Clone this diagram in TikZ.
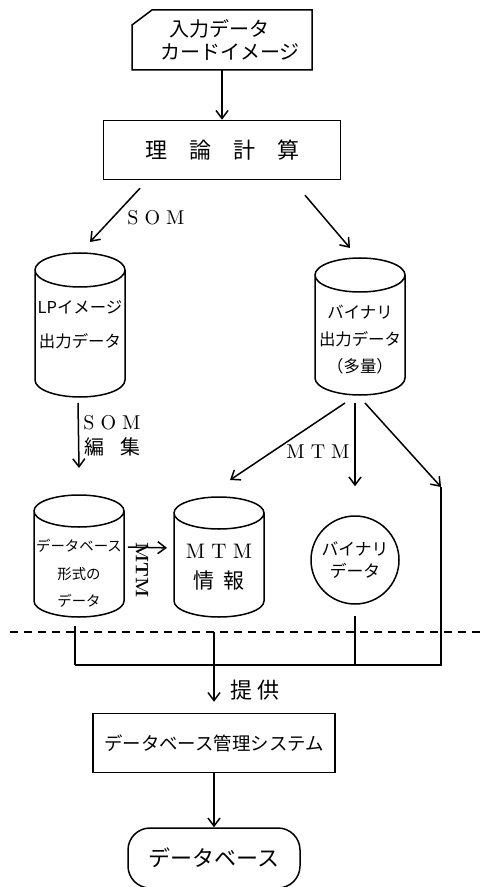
\documentclass[tikz,border=0pt]{standalone}
\usepackage{fontspec}
\newfontfamily\jp{Noto Sans CJK JP}
\usetikzlibrary{arrows.meta}

% outline of a drum (cylinder) around the node #1, ellipse y radius #2
\newcommand\drumline[2]{%
    \draw ([yshift=-#2]#1.north west) -- ([yshift=#2]#1.south west)
        arc[start angle=180, end angle=360, x radius=22.5pt, y radius=#2]
        -- ([yshift=-#2]#1.north east)
        arc[start angle=0, end angle=360, x radius=22.5pt, y radius=#2];
}

\begin{document}
\begin{tikzpicture}[x=0.5pt, y=-0.5pt, >={Straight Barb[length=4pt,width=6pt]}, line width=0.75pt,
    card/.style={rectangle, minimum width=90pt, minimum height=30pt, text width=78pt, align=left,
        outer sep=0pt, font=\jp\fontsize{10}{11.5}\selectfont},
    procbox/.style={rectangle, draw, minimum width=#1, minimum height=29.5pt},
    drum/.style={rectangle, inner sep=0pt, outer sep=0pt, minimum width=45pt, minimum height=#1,
        align=center, font=\jp\fontsize{8.2}{13.5}\selectfont},
    lbl/.style={inner sep=0pt, font=\fontsize{10}{11}\selectfont}]

    \useasboundingbox (0,0) rectangle (485,887);

    \coordinate (bus) at (0,665);
    \coordinate (rtop) at (441,487);
    \coordinate (dl) at (10,632);
    \coordinate (dr) at (485,632);

    \node[card] (card) at (222,40) {\hspace*{12.5pt}入力データ\\\hspace*{8pt}カードイメージ};
    \draw ([yshift=-7.5pt]card.north west) -- ([xshift=10pt]card.north west) -- (card.north east)
        -- (card.south east) -- (card.south west) -- cycle;
    \node[procbox=118.5pt, font=\jp\fontsize{11}{12}\selectfont] (calc) at (222,150) {理\quad 論\quad 計\quad 算};

    \node[drum=72pt, font=\jp\fontsize{8.2}{17}\selectfont] (lp) at (80,325) {LPイメージ\\出力データ};
    \node[drum=68.5pt] (bin) at (360,326.5) {\rule{0pt}{19.7pt}バイナリ\\出力データ\\（多量）};
    \node[drum=61pt, font=\jp\fontsize{7.2}{13.75}\selectfont] (db) at (79,556)
        {\rule{0pt}{23.5pt}データベース\\形式の\\データ};
    \node[drum=60pt, font=\jp\fontsize{10.5}{15}\selectfont] (mtm) at (219,557)
        {\rule{0pt}{17.5pt}{\rmfamily M\hspace{0.3em}T\hspace{0.3em}M}\\情\hspace{0.4em}報};
    \drumline{lp}{8.5pt}
    \drumline{bin}{8.5pt}
    \drumline{db}{8pt}
    \drumline{mtm}{8pt}
    \node[circle, draw, minimum size=44pt, inner sep=0pt, align=center,
        font=\jp\fontsize{8.4}{11}\selectfont] (bindat) at (355,560) {バイナリ\\データ};

    \node[procbox=121pt, font=\jp\fontsize{9.2}{11}\selectfont] (dbms) at (214,743) {データベース管理システム};
    \node[rectangle, rounded corners=11pt, draw, minimum width=86pt, minimum height=30pt,
        font=\jp\fontsize{11}{12}\selectfont] (dbase) at (214,858) {データベース};

    % labels
    \node[lbl] (som1) at (156,218) {S\hspace{0.3em}O\hspace{0.3em}M};
    \node[lbl] (som2) at (112,423) {S\hspace{0.3em}O\hspace{0.3em}M};
    \node[lbl, font=\jp\fontsize{10}{11}\selectfont] (edit) at (112,447) {編\hspace{0.8em}集};
    \node[lbl] (mtm1) at (318,452) {M\hspace{0.3em}T\hspace{0.3em}M};
    \node[lbl, rotate=-90, font=\bfseries\fontsize{9}{10}\selectfont] (mtm2) at (142,570) {MTM};
    \node[lbl, font=\jp\fontsize{11}{12}\selectfont] (offer) at (255,690) {提\hspace{0.25em}供};

    \draw[->] (card.south) -- (calc.north);
    \draw[->] ([xshift=-41pt,yshift=-4pt]calc.south) -- ([xshift=5pt,yshift=5.5pt]lp.north);
    \draw[->] ([xshift=41.5pt,yshift=-7.5pt]calc.south) -- ([xshift=-5pt,yshift=5pt]bin.north);
    \draw[->] ([xshift=-1pt,yshift=-3pt]lp.south) -- ([yshift=13.5pt]db.north);

    \draw[->] ([xshift=-7.5pt,yshift=-4pt]bin.south) -- ([xshift=5.5pt,yshift=8.5pt]mtm.north);
    \draw[->] ([xshift=-2.5pt,yshift=-4pt]bin.south) -- ([yshift=14.5pt]bindat.north);
    \draw[->] ([xshift=2.5pt,yshift=-4pt]bin.south) -- (rtop);
    \draw[->, shorten <=2pt, shorten >=3.5pt] ([yshift=4.5pt]db.east) -- ([yshift=4.5pt]mtm.west);

    \draw[dashed, dash pattern=on 4pt off 3pt] (dl) -- (dr);

    \draw[shorten <=4.5pt] ([xshift=-2pt]db.south) -- ([xshift=-2pt]db.south |- bus);
    \draw[shorten <=5.5pt] (bindat.south) -- (bindat.south |- bus);
    \draw (rtop) -- (rtop |- bus) -- ([xshift=-2pt]db.south |- bus);
    \draw[->] (dbms.north |- dl) -- ([yshift=5.5pt]dbms.north);
    \draw[->] (dbms.south) -- (dbase.north);

\end{tikzpicture}
\end{document}
